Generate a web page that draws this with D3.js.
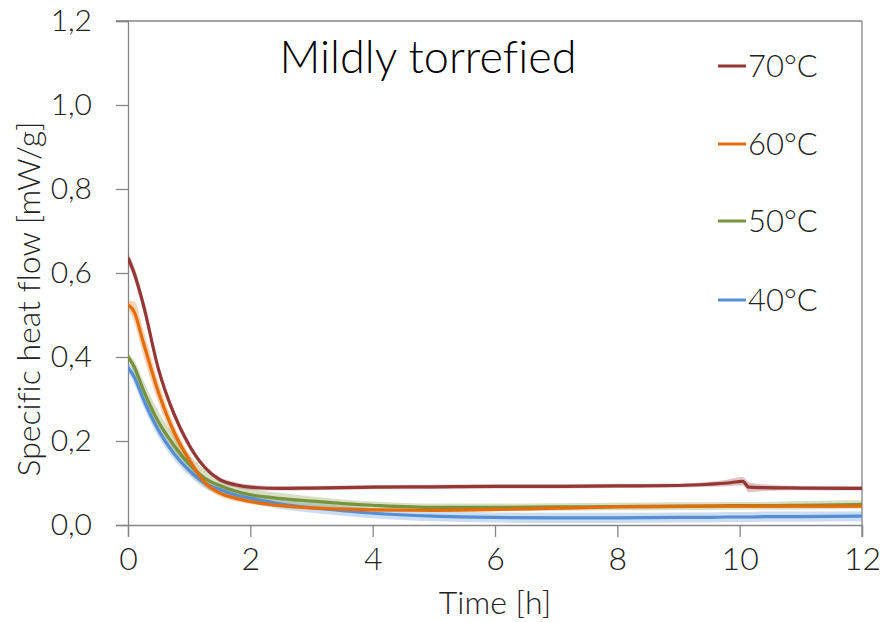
<!DOCTYPE html>
<html>
<head>
<meta charset="utf-8">
<script src="https://cdn.jsdelivr.net/npm/d3@7"></script>
<style>
html,body{margin:0;padding:0;background:#fff;}
svg{display:block;font-family:"Lato","Open Sans","DejaVu Sans",sans-serif;font-variant-ligatures:none;}
</style>
</head>
<body>
<svg id="chart" width="881" height="622"></svg>
<script>
// ---- data ----
const time = [0, 0.1, 0.25, 0.5, 0.75, 1, 1.25, 1.5, 1.75, 2, 2.5, 3, 3.5, 4, 5, 6, 7, 8, 9, 9.5, 9.8, 10.05, 10.15, 10.4, 11, 12];
const series = ["70°C", "60°C", "50°C", "40°C"];
const flow70 = [0.636, 0.60, 0.525, 0.37, 0.265, 0.19, 0.138, 0.108, 0.096, 0.090, 0.087, 0.088, 0.089, 0.090, 0.091, 0.092, 0.092, 0.093, 0.094, 0.097, 0.100, 0.104, 0.090, 0.089, 0.088, 0.087];
const flow60 = [0.524, 0.508, 0.435, 0.315, 0.222, 0.155, 0.102, 0.076, 0.064, 0.056, 0.046, 0.041, 0.038, 0.036, 0.035, 0.037, 0.040, 0.043, 0.044, 0.045, 0.045, 0.045, 0.045, 0.045, 0.045, 0.045];
const flow50 = [0.401, 0.377, 0.322, 0.245, 0.19, 0.145, 0.112, 0.094, 0.081, 0.072, 0.063, 0.057, 0.051, 0.047, 0.042, 0.042, 0.043, 0.044, 0.045, 0.045, 0.046, 0.046, 0.046, 0.046, 0.047, 0.049];
const flow40 = [0.375, 0.353, 0.300, 0.225, 0.170, 0.130, 0.100, 0.085, 0.072, 0.064, 0.050, 0.041, 0.034, 0.028, 0.021, 0.018, 0.017, 0.017, 0.018, 0.018, 0.019, 0.019, 0.019, 0.020, 0.020, 0.021];
// band half-widths (scatter of replicate measurements)
const spread70 = [0.012, 0.015, 0.015, 0.012, 0.010, 0.008, 0.006, 0.006, 0.006, 0.006, 0.005, 0.005, 0.005, 0.005, 0.005, 0.005, 0.005, 0.005, 0.005, 0.006, 0.008, 0.010, 0.012, 0.008, 0.005, 0.005];
const spread60 = [0.010, 0.025, 0.030, 0.025, 0.018, 0.012, 0.010, 0.008, 0.007, 0.006, 0.005, 0.005, 0.004, 0.004, 0.004, 0.004, 0.004, 0.004, 0.004, 0.004, 0.004, 0.004, 0.004, 0.004, 0.004, 0.004];
const spread50 = [0.010, 0.015, 0.022, 0.024, 0.024, 0.022, 0.020, 0.018, 0.016, 0.015, 0.013, 0.011, 0.010, 0.009, 0.009, 0.009, 0.009, 0.009, 0.009, 0.009, 0.009, 0.009, 0.009, 0.009, 0.010, 0.010];
const spread40 = [0.010, 0.016, 0.018, 0.016, 0.014, 0.013, 0.012, 0.012, 0.012, 0.012, 0.012, 0.012, 0.012, 0.012, 0.012, 0.012, 0.012, 0.012, 0.012, 0.012, 0.012, 0.012, 0.012, 0.012, 0.012, 0.012];
const colors = ["#953735", "#E46C0A", "#77933C", "#558ED5"];
const xTicks = [0, 2, 4, 6, 8, 10, 12];
const yTicks = [0, 0.2, 0.4, 0.6, 0.8, 1.0, 1.2];
const title = "Mildly torrefied";
const xTitle = "Time [h]";
const yTitle = "Specific heat flow [mW/g]";

const values = [flow70, flow60, flow50, flow40];
const spreads = [spread70, spread60, spread50, spread40];

// ---- layout ----
const svg = d3.select("#chart");
const m = {left: 128, right: 862, top: 21, bottom: 525};
const x = d3.scaleLinear().domain([0, 12]).range([m.left, m.right]);
const y = d3.scaleLinear().domain([0, 1.2]).range([m.bottom, m.top]);
const axisColor = "#868686";
const textColor = "#222";
const fmt = d => d3.format(".1f")(d).replace(".", ",");

// plot frame (top and right)
svg.append("line").attr("x1", m.left - 12).attr("x2", m.right).attr("y1", m.top).attr("y2", m.top)
  .attr("stroke", axisColor).attr("stroke-width", 1.3);
svg.append("line").attr("x1", m.right).attr("x2", m.right).attr("y1", m.top).attr("y2", m.bottom + 12)
  .attr("stroke", axisColor).attr("stroke-width", 1.3);

// axes
const xAxis = svg.append("g").attr("transform", `translate(0,${m.bottom})`)
  .call(d3.axisBottom(x).tickValues(xTicks).tickSize(12).tickPadding(10).tickFormat(d3.format("d")));
const yAxis = svg.append("g").attr("transform", `translate(${m.left},0)`)
  .call(d3.axisLeft(y).tickValues(yTicks).tickSize(12).tickPadding(24).tickFormat(fmt));
[xAxis, yAxis].forEach(g => {
  g.select(".domain").attr("stroke", axisColor).attr("stroke-width", 1.3);
  g.selectAll(".tick line").attr("stroke", axisColor).attr("stroke-width", 1.3);
  g.selectAll(".tick text").attr("fill", textColor)
    .attr("font-family", "Lato, 'Open Sans', sans-serif").attr("font-weight", 300);
});
xAxis.selectAll(".tick text").attr("font-size", 32);
yAxis.selectAll(".tick text").attr("font-size", 30);

// clip
svg.append("clipPath").attr("id", "clip").append("rect")
  .attr("x", m.left).attr("y", m.top).attr("width", m.right - m.left).attr("height", m.bottom - m.top);
const plot = svg.append("g").attr("clip-path", "url(#clip)");

const area = d3.area().curve(d3.curveMonotoneX)
  .x(d => x(d.t)).y0(d => y(d.v - d.s)).y1(d => y(d.v + d.s));
const line = d3.line().curve(d3.curveMonotoneX).x(d => x(d.t)).y(d => y(d.v));

const order = [3, 2, 1, 0];
order.forEach(i => {
  const pts = time.map((t, k) => ({t, v: values[i][k], s: spreads[i][k]}));
  plot.append("path").datum(pts).attr("d", area)
    .attr("fill", colors[i]).attr("fill-opacity", 0.3);
});
order.forEach(i => {
  const pts = time.map((t, k) => ({t, v: values[i][k]}));
  plot.append("path").datum(pts).attr("d", line)
    .attr("fill", "none").attr("stroke", colors[i]).attr("stroke-width", 3.2)
    .attr("stroke-linejoin", "round");
});

// title
svg.append("text").attr("x", 428).attr("y", 73).attr("text-anchor", "middle")
  .attr("font-size", 45).attr("font-weight", 300).attr("fill", "#000").text(title);

// legend
const legY = [66, 144, 221, 300];
series.forEach((s, i) => {
  const g = svg.append("g").attr("transform", `translate(718,${legY[i]})`);
  g.append("line").attr("x1", 0).attr("x2", 28).attr("y1", 0).attr("y2", 0)
    .attr("stroke", colors[i]).attr("stroke-width", 3);
  g.append("text").attr("x", 30).attr("y", 0).attr("dy", "0.36em")
    .attr("font-size", 31).attr("font-weight", 300).attr("fill", textColor).text(s);
});

// axis titles
svg.append("text").attr("x", (m.left + m.right) / 2).attr("y", 614).attr("text-anchor", "middle")
  .attr("font-size", 32).attr("font-weight", 300).attr("fill", textColor).text(xTitle);
svg.append("text").attr("transform", `translate(40,${(m.top + m.bottom) / 2 + 26}) rotate(-90)`)
  .attr("text-anchor", "middle").attr("font-size", 32).attr("font-weight", 300)
  .attr("fill", textColor).text(yTitle);
</script>
</body>
</html>
